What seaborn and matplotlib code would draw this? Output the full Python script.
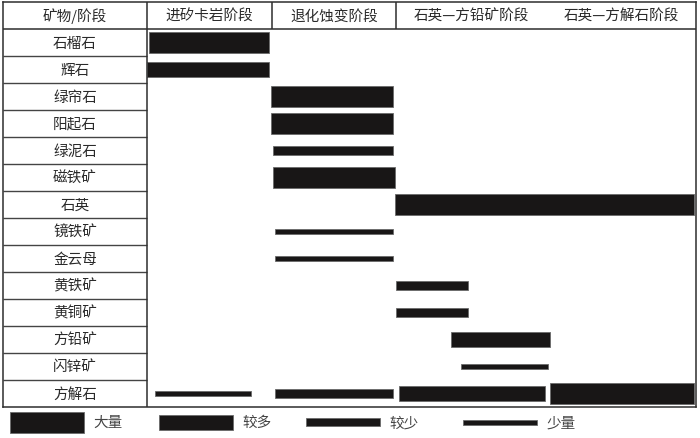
"""
Paragenetic sequence of minerals by stage, drawn as a table-like range chart.
"""
import numpy as np
import matplotlib
matplotlib.use("Agg")
import matplotlib.pyplot as plt
import seaborn as sns

# rows of the table, top to bottom
minerals = ["石榴石", "辉石", "绿帘石", "阳起石", "绿泥石", "磁铁矿", "石英",
            "镜铁矿", "金云母", "黄铁矿", "黄铜矿", "方铅矿", "闪锌矿", "方解石"]
stages = ["进矽卡岩阶段", "退化蚀变阶段", "石英—方铅矿阶段", "石英—方解石阶段"]
# stage boundaries on a relative time axis (0-100)
stage_edges = [0, 22.9, 45.5, 72.9, 100]

# one entry per bar: mineral, start, end, abundance class
bar_mineral = ["石榴石", "辉石", "绿帘石", "阳起石", "绿泥石", "磁铁矿", "石英",
               "镜铁矿", "金云母", "黄铁矿", "黄铜矿", "方铅矿", "闪锌矿",
               "方解石", "方解石", "方解石", "方解石"]
bar_start = [0.4, 0.0, 22.6, 22.6, 23.0, 23.0, 45.2, 23.4, 23.4, 45.5, 45.5,
             55.4, 57.2, 1.6, 23.3, 46.0, 73.5]
bar_end = [22.3, 22.3, 44.9, 44.9, 44.9, 45.3, 99.7, 44.9, 44.9, 58.5, 58.5,
           73.4, 73.2, 19.0, 44.9, 72.5, 99.7]
bar_level = ["大量", "较多", "大量", "大量", "较少", "大量", "大量", "少量", "少量",
             "较少", "较少", "较多", "少量", "少量", "较少", "较多", "大量"]

levels = ["大量", "较多", "较少", "少量"]
level_height = [0.78, 0.56, 0.32, 0.18]   # bar thickness, in row units

sns.set_theme(style="white")
plt.rcParams['font.family'] = ['Noto Sans CJK SC', 'DejaVu Sans']

BAR = '#181616'
LINE = '#2e2e2e'
TXT = '#2a2a2a'
label_w = 26.13   # width of the mineral column, in time units

fig = plt.figure(figsize=(7, 4.39), dpi=100)
ax = fig.add_axes([3.3 / 700, 1 - 408 / 439, (695.5 - 3.3) / 700, 405 / 439])
ax.set_xlim(-label_w, 100)
ax.set_ylim(len(minerals) - 0.5, -1.5)
ax.set_xticks([])
ax.set_yticks([])
for s in ax.spines.values():
    s.set_visible(True)
    s.set_color(LINE)
    s.set_linewidth(1.1)

# table lines
ax.axhline(-0.5, color=LINE, lw=1.1)
ax.hlines(np.arange(0.5, len(minerals) - 0.5), -label_w, 0, color='#444444', lw=1.0)
ax.vlines(0, -1.5, len(minerals) - 0.5, color=LINE, lw=1.1)
ax.vlines(stage_edges[1:3], -1.5, -0.5, color=LINE, lw=1.1)

# header
ax.text(-label_w / 2, -1, "矿物/阶段", ha='center', va='center', fontsize=10.5, color=TXT)
for i, st in enumerate(stages):
    ax.text((stage_edges[i] + stage_edges[i + 1]) / 2, -1, st,
            ha='center', va='center', fontsize=10.5, color=TXT)

# mineral names
for r, m in enumerate(minerals):
    ax.text(-label_w / 2, r, m, ha='center', va='center', fontsize=10.5, color=TXT)

# range bars
h_of = dict(zip(levels, level_height))
for m, a, b, lev in zip(bar_mineral, bar_start, bar_end, bar_level):
    ax.barh(minerals.index(m), b - a, left=a, height=h_of[lev],
            color=BAR, edgecolor='#6a6a6a', linewidth=0.6)

# legend row under the table
leg_y = 14.06
leg_left = [-25.0, 2.2, 29.0, 57.6]
for left, lev in zip(leg_left, levels):
    ax.barh(leg_y, 13.5, left=left, height=h_of[lev], color=BAR,
            edgecolor='#6a6a6a', linewidth=0.6, clip_on=False)
    ax.text(left + 15.3, leg_y, lev, ha='left', va='center', fontsize=10.5,
            color='#444444', clip_on=False)

fig.savefig("out.png", dpi=100)
